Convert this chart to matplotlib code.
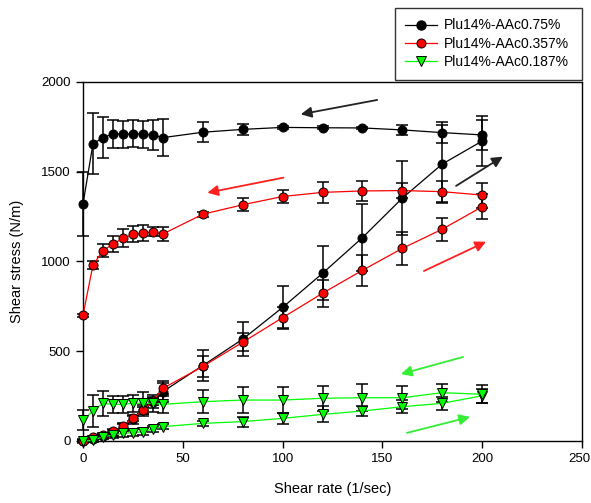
import matplotlib
matplotlib.use("Agg")
import matplotlib.pyplot as plt
import matplotlib.transforms as mtransforms
from matplotlib.lines import Line2D

plt.rcParams['font.family'] = ['Liberation Sans', 'DejaVu Sans']

# shear rates
rate = [0, 5, 10, 15, 20, 25, 30, 35, 40, 60, 80, 100, 120, 140, 160, 180, 200]

# Plu14%-AAc0.75%  (ramp up and ramp down)
blk_up = [0, 12, 25, 45, 75, 120, 170, 215, 275, 420, 567, 744, 934, 1133, 1353, 1543, 1671]
blk_up_err = [5, 8, 10, 15, 20, 25, 30, 30, 60, 85, 95, 120, 150, 185, 205, 217, 137]
blk_dn = [1320, 1655, 1690, 1710, 1710, 1712, 1710, 1705, 1690, 1720, 1736, 1747, 1745, 1744, 1733, 1718, 1705]
blk_dn_err = [180, 170, 113, 78, 75, 75, 75, 85, 105, 57, 30, 8, 8, 8, 30, 57, 85]

# Plu14%-AAc0.357%
red_up = [0, 20, 33, 55, 83, 126, 170, 220, 293, 415, 550, 687, 823, 951, 1073, 1180, 1305]
red_up_err = [5, 8, 10, 12, 15, 15, 20, 20, 30, 60, 50, 60, 75, 85, 93, 65, 70]
red_dn = [700, 980, 1060, 1097, 1129, 1151, 1157, 1166, 1153, 1263, 1316, 1362, 1385, 1393, 1395, 1389, 1370]
red_dn_err = [10, 20, 37, 45, 50, 45, 45, 25, 37, 15, 35, 38, 60, 58, 40, 60, 70]

# Plu14%-AAc0.187%
grn_up = [0, 3, 24, 33, 43, 46, 52, 67, 80, 98, 108, 126, 148, 167, 191, 210, 252]
grn_up_err = [10, 10, 15, 18, 20, 20, 18, 15, 15, 15, 28, 30, 45, 30, 35, 35, 40]
grn_dn = [117, 167, 210, 204, 204, 210, 210, 210, 204, 219, 228, 228, 238, 241, 241, 269, 260]
grn_dn_err = [55, 87, 70, 48, 48, 48, 62, 48, 48, 65, 70, 70, 70, 75, 65, 50, 50]

labels = ['Plu14%-AAc0.75%', 'Plu14%-AAc0.357%', 'Plu14%-AAc0.187%']

fig = plt.figure(figsize=(5.91, 5.03), dpi=100)
ax = fig.add_axes([0.1404, 0.1233, 0.8444, 0.7137])

ebkw = dict(ecolor='black', elinewidth=1.1, capsize=4.5, capthick=1.1, zorder=2)

def series(y, err, color, mfc, marker, ms):
    eb = ax.errorbar(rate, y, yerr=err, fmt='none', **ebkw)
    for art in list(eb.lines[1]) + list(eb.lines[2]):
        art.set_clip_on(False)
    ax.plot(rate, y, color=color, lw=0.9, marker=marker, ms=ms,
            mfc=mfc, mec='black', mew=0.7, zorder=3, clip_on=False)

series(blk_up, blk_up_err, 'black', 'black', 'o', 6.5)
series(blk_dn, blk_dn_err, 'black', 'black', 'o', 6.5)
series(red_up, red_up_err, '#ff0000', '#ff0000', 'o', 6.5)
series(red_dn, red_dn_err, '#ff0000', '#ff0000', 'o', 6.5)
series(grn_up, grn_up_err, '#00ff00', '#00ff00', 'v', 6.5)
series(grn_dn, grn_dn_err, '#00ff00', '#00ff00', 'v', 6.5)

# direction arrows (start, tip) in data coordinates
arrows = [
    ((147.4, 1900), (109.1, 1820), '#222222'),
    ((186.9, 1421), (210.3, 1584), '#222222'),
    ((100.4, 1467), (62.3, 1383), '#ff2020'),
    ((170.8, 947), (201.9, 1110), '#ff2020'),
    ((190.4, 468), (159.3, 373), '#33ee33'),
    ((162.3, 45), (193.9, 134), '#33ee33'),
]
for (s, t, c) in arrows:
    ax.annotate('', xy=t, xytext=s,
                arrowprops=dict(arrowstyle='-|>', color=c, lw=1.3,
                                mutation_scale=16, shrinkA=0, shrinkB=0))

ax.set_xlim(0, 250)
ax.set_ylim(0, 2000)
ax.set_xticks([0, 50, 100, 150, 200, 250])
ax.set_yticks([0, 500, 1000, 1500, 2000])
ax.tick_params(direction='out', length=5, width=1, labelsize=9.5,
               top=False, right=False, pad=4)
for sp in ax.spines.values():
    sp.set_linewidth(1)
ax.set_xlabel('Shear rate (1/sec)', fontsize=10.5, labelpad=12)
ax.set_ylabel('Shear stress (N/m)', fontsize=10.5, labelpad=12)

# nudge the last x tick label so it stays inside the figure
fig.canvas.draw()
last = ax.get_xticklabels()[-1]
last.set_transform(last.get_transform() +
                   mtransforms.ScaledTranslation(-3 / 100, 0, fig.dpi_scale_trans))

handles = [
    Line2D([], [], color='black', lw=0.9, marker='o', ms=6.5, mfc='black', mec='black'),
    Line2D([], [], color='#ff0000', lw=0.9, marker='o', ms=6.5, mfc='#ff0000', mec='black', mew=0.7),
    Line2D([], [], color='#00ff00', lw=0.9, marker='v', ms=6.5, mfc='#00ff00', mec='black', mew=0.7),
]
leg = fig.legend(handles, labels, loc='upper left',
                 bbox_to_anchor=(395 / 591, 1 - 79 / 503, 187 / 591, 71 / 503),
                 mode='expand', fontsize=10, frameon=True, fancybox=False,
                 edgecolor='black', handlelength=2.3, borderpad=0.75,
                 labelspacing=0.32, handletextpad=0.5, borderaxespad=0)
leg.get_frame().set_linewidth(1)

fig.savefig('out.png', dpi=100)
